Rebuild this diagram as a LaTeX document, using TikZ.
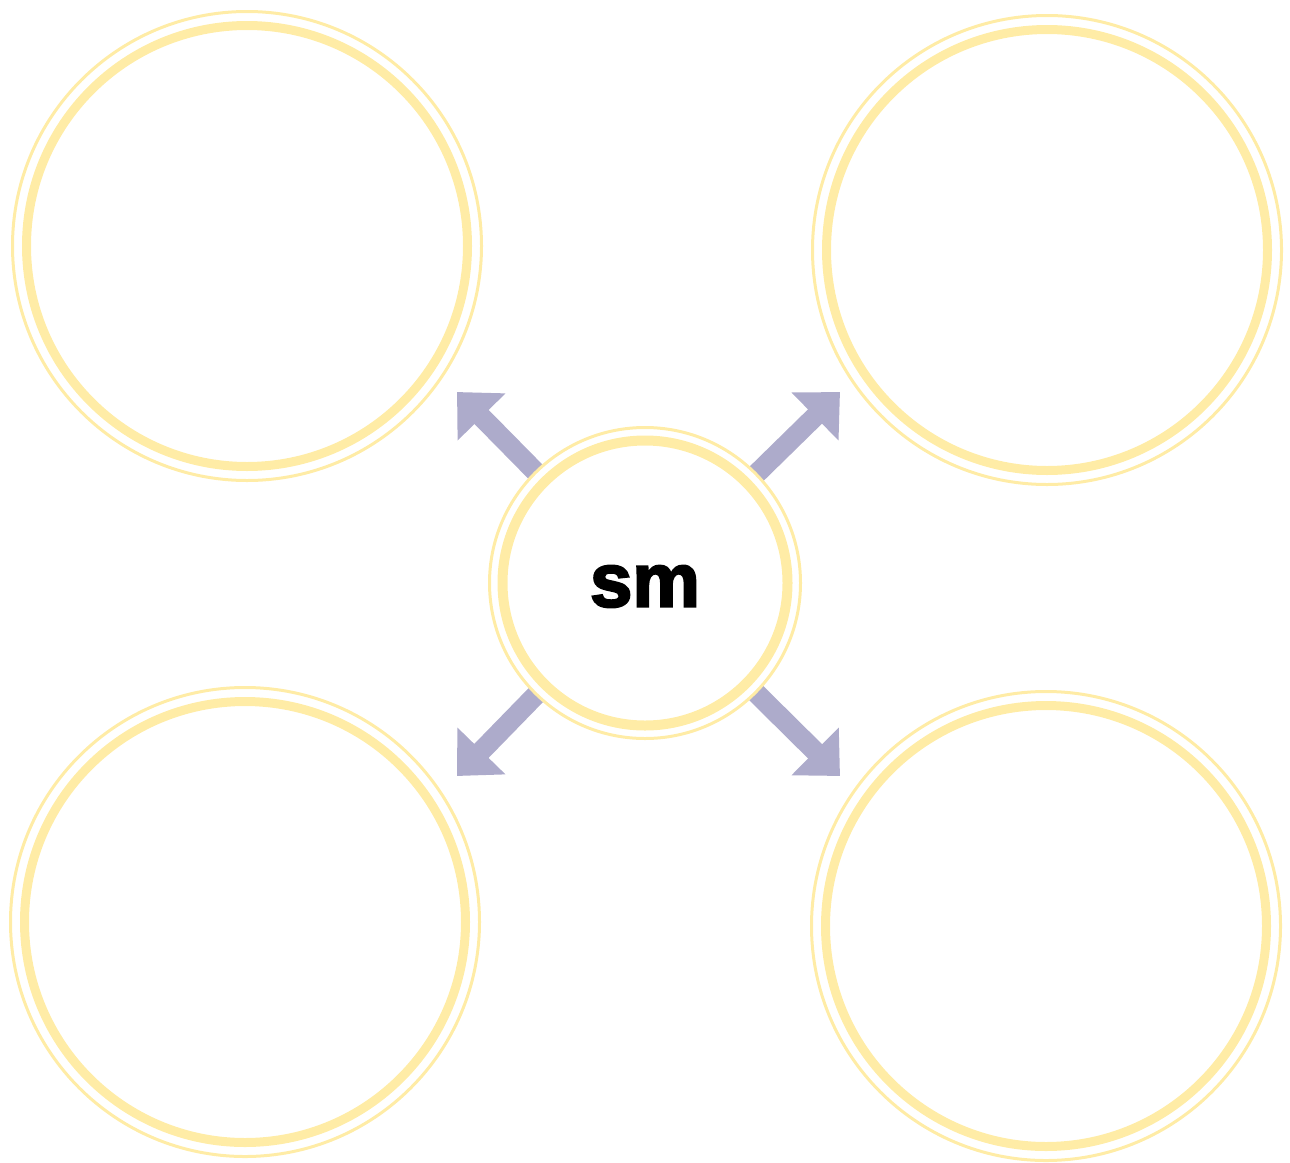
\documentclass[tikz,border=0pt]{standalone}
\usepackage{fontspec}
\usepackage{tikz}
\usetikzlibrary{arrows.meta,positioning}
\newfontfamily\hubfont{Liberation Sans Bold}[FakeBold=3]
\definecolor{ringyellow}{HTML}{FFECA6}
\definecolor{spokeblue}{HTML}{ADABCB}
\tikzset{
  bigring/.style={circle,draw=ringyellow,line width=9pt,minimum size=441pt,inner sep=0pt},
  hubring/.style={circle,draw=ringyellow,line width=10pt,minimum size=285pt,inner sep=0pt},
  hubtext/.style={font=\hubfont\fontsize{76}{80}\selectfont,inner sep=0pt},
  thinring/.style={draw=ringyellow,line width=3pt},
  spoke/.style={-{Triangle[length=35pt,width=65pt]},draw=spokeblue,line width=20pt,shorten <=8.5pt}
}
\begin{document}
\begin{tikzpicture}[x=1pt,y=-1pt]
\useasboundingbox (0,0) rectangle (1290,1162);
\node[bigring] (nw) at (247,246) {};
\node[bigring] (ne) at (1047,250) {};
\node[bigring] (sw) at (245,922) {};
\node[bigring] (se) at (1046,926) {};
\node[hubring,label={[hubtext,yshift=-3.5pt]center:sm}] (hub) at (645,583) {};
\coordinate (nwtip) at (457,392);
\coordinate (netip) at (840,392);
\coordinate (swtip) at (457,776);
\coordinate (setip) at (840,776);
\foreach \n in {nw,ne,sw,se}{\draw[spoke] (hub) -- (\n tip);}
\foreach \n in {nw,ne,sw,se}{\draw[thinring] (\n) circle[radius=234.5pt];}
\draw[thinring] (hub) circle[radius=155.5pt];
\end{tikzpicture}
\end{document}
